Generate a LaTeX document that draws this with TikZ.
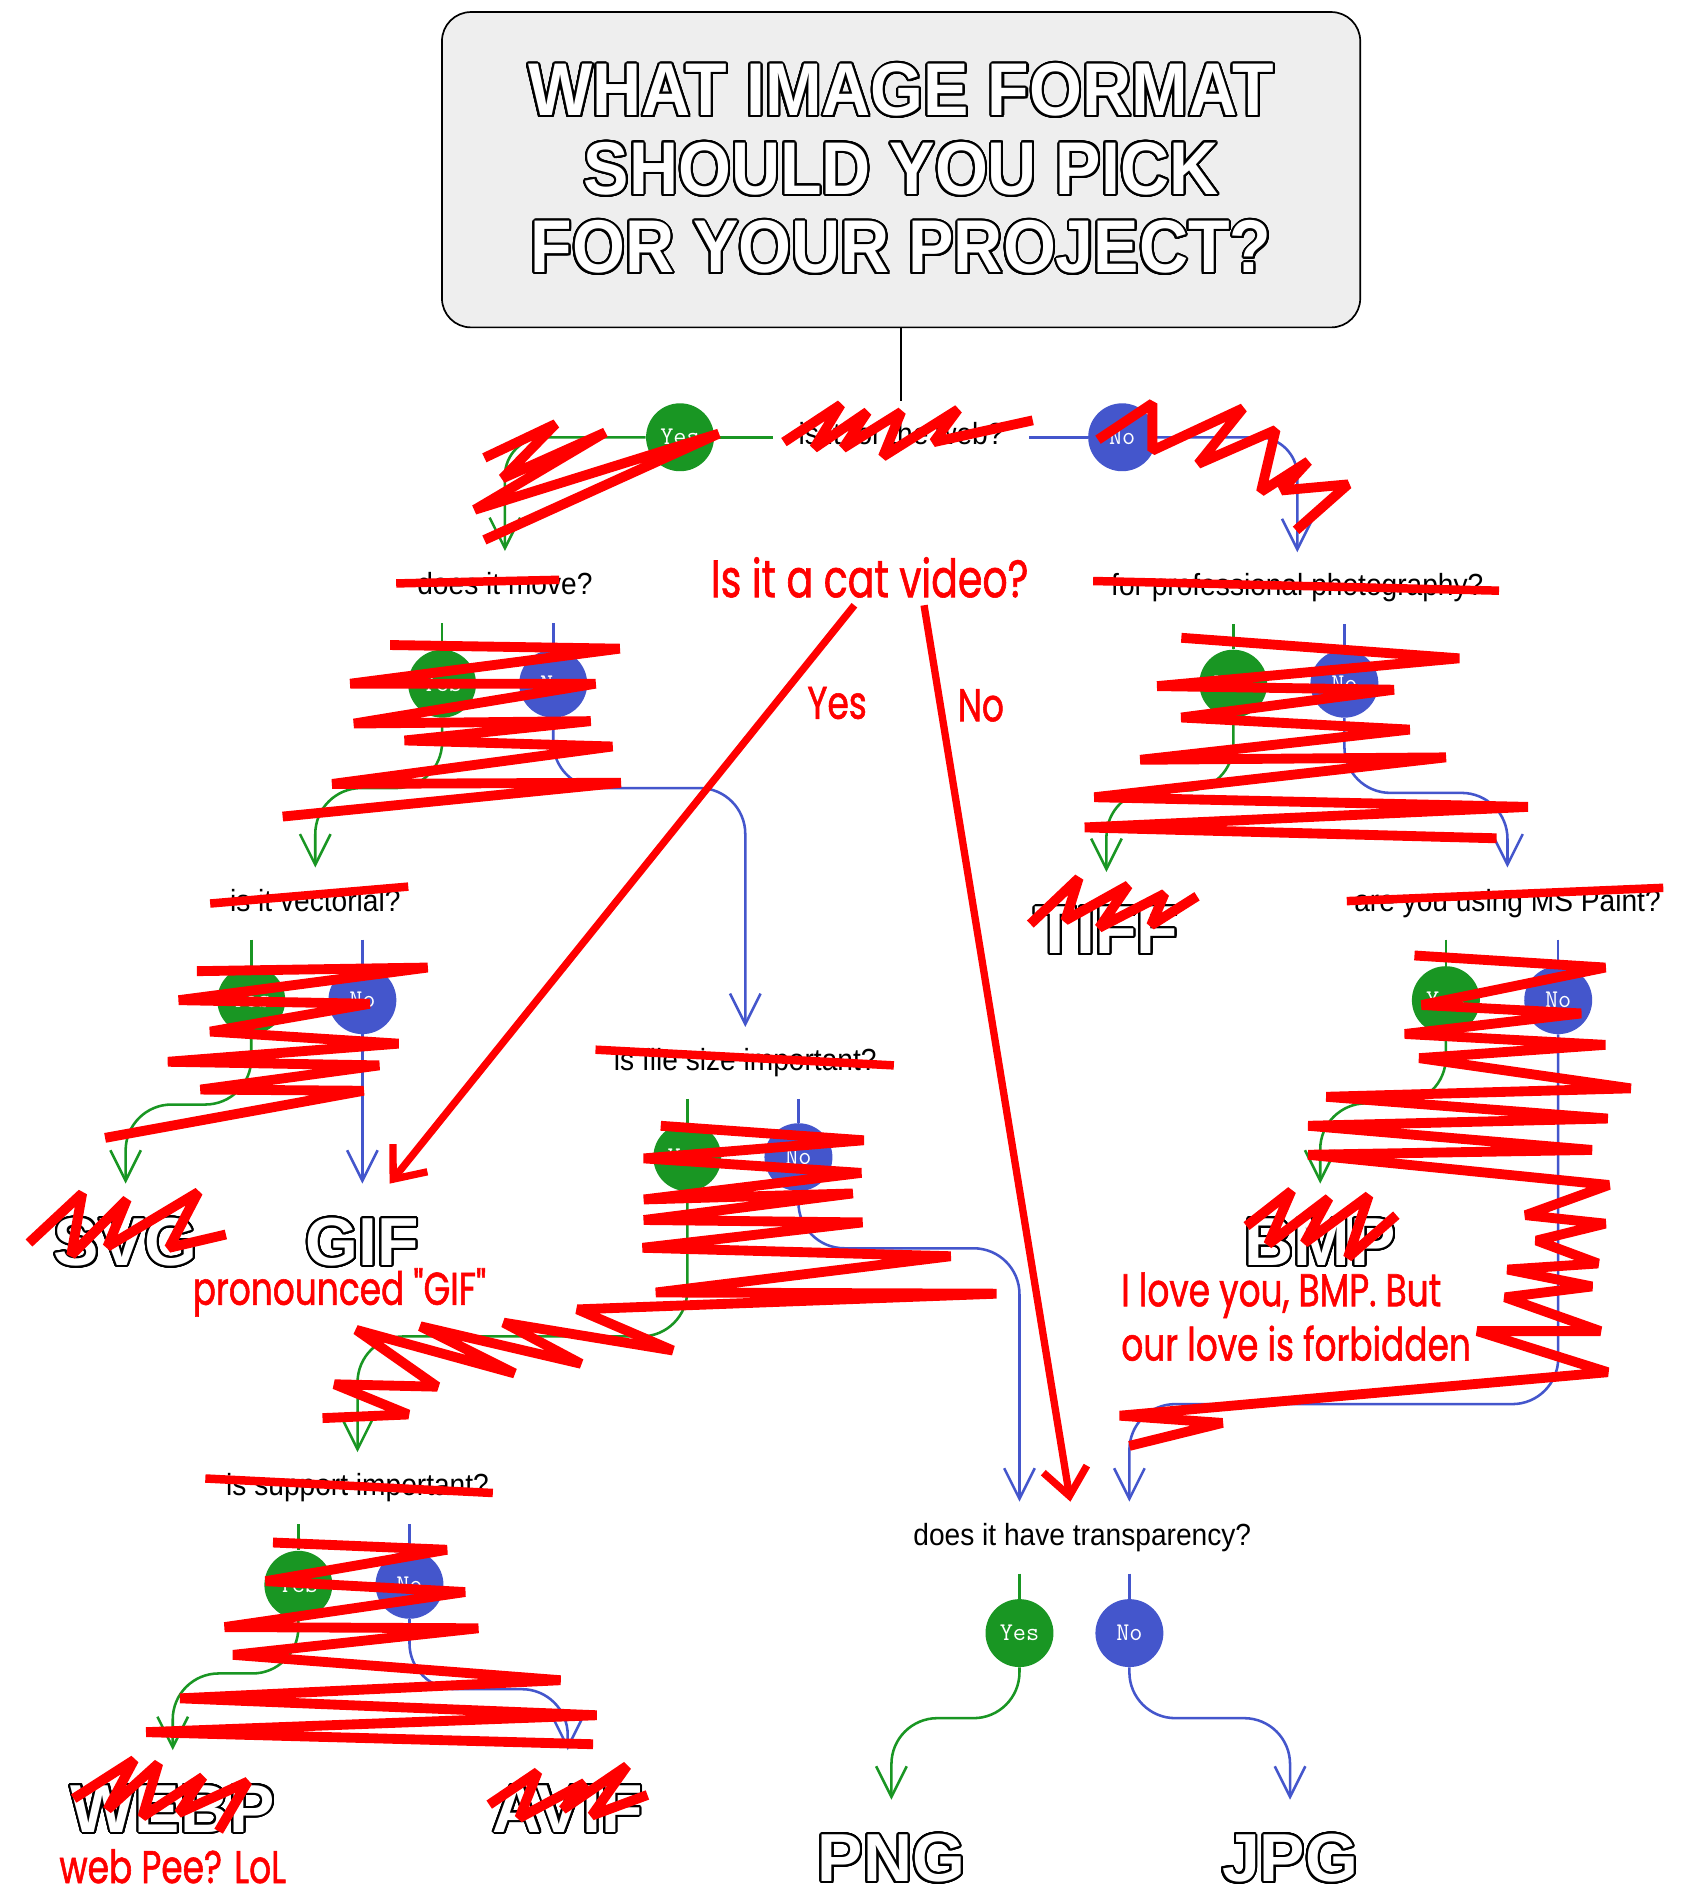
\documentclass[tikz,border=0pt]{standalone}
\usepackage{fontspec}
\usepackage{contour}
\usetikzlibrary{arrows.meta}
\setmainfont{Liberation Sans}
\newfontfamily\qfont[FakeStretch=0.92]{Liberation Sans}
\newfontfamily\fmtfont{Liberation Sans}
\newfontfamily\headfont[FakeStretch=0.91]{Liberation Sans}
\newfontfamily\handfont[FakeStretch=0.75,FakeBold=1.2]{Poppins}
\definecolor{yesgreen}{RGB}{25,150,35}
\definecolor{noblue}{RGB}{68,86,204}
\definecolor{scribred}{RGB}{255,0,0}
\definecolor{titlegray}{RGB}{238,238,238}
\contourlength{1.2pt}
\contournumber{32}
\tikzset{
  question/.style={font=\qfont\fontsize{18}{20}\selectfont, text height=13pt, text depth=4pt, inner ysep=12.5pt, inner xsep=15pt},
  yesnode/.style={circle, minimum size=40pt, inner sep=0pt, fill=yesgreen, text=white, font=\ttfamily\fontsize{15}{15}\selectfont},
  nonode/.style={yesnode, fill=noblue},
  format/.style={font=\fmtfont\bfseries\fontsize{40}{40}\selectfont, text=white, text height=28pt, text depth=0pt, inner ysep=20pt},
  yesline/.style={draw=yesgreen, line width=1.5pt},
  noline/.style={draw=noblue, line width=1.5pt},
  yesarrow/.style={yesline, rounded corners=0.95cm, -{Straight Barb[length=18pt,width=18pt]}},
  noarrow/.style={noline, rounded corners=0.95cm, -{Straight Barb[length=18pt,width=18pt]}},
  scribble/.style={draw=scribred, line width=5.8pt, line join=bevel},
  strike/.style={draw=scribred, line width=5pt},
  redarrow/.style={draw=scribred, line width=4.3pt, -{Straight Barb[length=16pt,width=26pt]}},
  redtext/.style={text=scribred, font=\handfont\fontsize{27}{32}\selectfont, align=left, inner sep=0pt}
}
\begin{document}
\begin{tikzpicture}[x=0.025cm, y=-0.025cm]
\fill[white] (0,0) rectangle (1398,1568);
\useasboundingbox (0,0) rectangle (1398,1568);

\node[draw, line width=1pt, fill=titlegray, rounded corners=0.6cm, minimum width=19cm, minimum height=6.525cm,
      align=center, text=white, font=\headfont\bfseries\fontsize{44}{46.2}\selectfont] (title) at (746,140.5)
      {\contour{black}{WHAT IMAGE FORMAT}\\\contour{black}{SHOULD YOU PICK}\\\contour{black}{FOR YOUR PROJECT?}};

% questions
\node[question] (q1) at (746,362) {is it for the web?};
\node[question] (q2) at (418,486) {does it move?};
\node[question] (q3) at (1074,487) {for professional photography?};
\node[question] (q4) at (261,748) {is it vectorial?};
\node[question] (q5) at (617,880) {is file size important?};
\node[question] (q6) at (296,1232) {is support important?};
\node[question] (q7) at (1248,748) {are you using MS Paint?};
\node[question] (q8) at (896,1273) {does it have transparency?};

% answers
\node[yesnode] (y1) at (563,362) {Yes};
\node[nonode] (n1) at (929,362) {No};
\node[yesnode] (y2) at (366,566) {Yes};
\node[nonode] (n2) at (458,566) {No};
\node[yesnode] (y3) at (1021,566) {Yes};
\node[nonode] (n3) at (1113,566) {No};
\node[yesnode] (y4) at (208,828) {Yes};
\node[nonode] (n4) at (300,828) {No};
\node[yesnode] (y5) at (569,958) {Yes};
\node[nonode] (n5) at (661,958) {No};
\node[yesnode] (y6) at (247,1312) {Yes};
\node[nonode] (n6) at (339,1312) {No};
\node[yesnode] (y7) at (1197,828) {Yes};
\node[nonode] (n7) at (1290,828) {No};
\node[yesnode] (y8) at (844,1352) {Yes};
\node[nonode] (n8) at (935,1352) {No};

% formats
\node[format] (svg) at (104,1028) {\contour{black}{SVG}};
\node[format] (gif) at (300,1028) {\contour{black}{GIF}};
\node[format] (tiff) at (916,770) {\contour{black}{TIFF}};
\node[format] (bmp) at (1093,1028) {\contour{black}{BMP}};
\node[format] (webp) at (143,1497) {\contour{black}{WEBP}};
\node[format] (avif) at (470,1497) {\contour{black}{AVIF}};
\node[format] (png) at (738,1538) {\contour{black}{PNG}};
\node[format] (jpg) at (1068,1538) {\contour{black}{JPG}};

\draw[line width=1pt] (title.south) -- (q1.north);
\draw[yesline] (q1.west) -- (y1);
\draw[yesarrow, rounded corners=0.8cm] (y1.west) -| (q2.north);
\draw[noline] (q1.east) -- (n1);
\draw[noarrow, rounded corners=0.8cm] (n1.east) -| (q3.north);

\foreach \q/\y/\n in {q2/y2/n2, q3/y3/n3, q4/y4/n4, q5/y5/n5, q6/y6/n6, q7/y7/n7, q8/y8/n8} {
  \draw[yesline] (\q.south -| \y) -- (\y);
  \draw[noline] (\q.south -| \n) -- (\n);
}

\draw[yesarrow] (y2.south) -- ++(0,58) -| (q4.north);
\draw[noarrow] (n2.south) -- ++(0,58) -| (q5.north);
\draw[yesarrow] (y3.south) -- ++(0,60) -| (tiff.north);
\draw[noarrow] (n3.south) -- ++(0,62) -| (q7.north);
\draw[yesarrow] (y4.south) -- ++(0,58) -| (svg.north);
\draw[noarrow] (n4) -- (gif.north);
\draw[yesarrow] (y5.south) -- ++(0,120) -| (q6.north);
\draw[noarrow] (n5.south) -- ++(0,47) -| (q8.north -| y8);
\draw[yesarrow] (y6.south) -- ++(0,45) -| (webp.north);
\draw[noarrow] (n6.south) -- ++(0,58) -| (avif.north);
\draw[yesarrow] (y7.south) -- ++(0,57) -| (bmp.north);
\draw[noarrow] (n7.south) -- ++(0,306) -| (q8.north -| n8);
\draw[yesarrow] (y8.south) -- ++(0,42) -| (png.north);
\draw[noarrow] (n8.south) -- ++(0,42) -| (jpg.north);

% scribbles
\draw[scribble] (649,366) -- (696,335) -- (674,371) -- (718,341) -- (698,371) -- (746,341) -- (731,378) -- (793,339) -- (773,366) -- (855,348);
\draw[scribble] (401,379) -- (460,351) -- (416,396) -- (501,358) -- (393,422) -- (595,359) -- (401,447);
\draw[scribble] (909,364) -- (954,334) -- (954,373) -- (1029,338) -- (992,384) -- (1056,356) -- (1044,407) -- (1083,382) -- (1061,406) -- (1116,401) -- (1073,439);
\draw[scribble] (323,534) -- (513,537) -- (290,566) -- (493,566) -- (293,599) -- (489,597) -- (335,613) -- (507,618) -- (275,649) -- (514,648) -- (234,676);
\draw[scribble] (978,528) -- (1208,545) -- (958,568) -- (1154,571) -- (978,594) -- (1167,604) -- (944,629) -- (1197,627) -- (906,660) -- (1265,668) -- (898,685) -- (1239,694);
\draw[scribble] (853,765) -- (893,727) -- (882,762) -- (934,733) -- (910,768) -- (964,740) -- (953,766) -- (991,742);
\draw[scribble] (163,804) -- (354,801) -- (148,828) -- (306,831) -- (174,854) -- (330,864) -- (139,879) -- (314,882) -- (166,902) -- (301,903) -- (87,942);
\draw[scribble] (24,1029) -- (68,988) -- (59,1039) -- (105,993) -- (89,1032) -- (164,987) -- (140,1033) -- (187,1022);
\draw[scribble] (547,932) -- (715,944) -- (533,959) -- (713,971) -- (533,993) -- (706,988) -- (533,1010) -- (714,1012) -- (532,1033) -- (787,1040) -- (543,1070) -- (825,1071) -- (478,1084) -- (557,1118) -- (417,1095) -- (481,1129) -- (348,1098) -- (426,1137) -- (295,1101) -- (362,1148) -- (277,1146) -- (338,1171) -- (267,1174);
\draw[scribble] (1171,791) -- (1329,801) -- (1177,832) -- (1309,839) -- (1163,856) -- (1329,865) -- (1175,876) -- (1350,901) -- (1098,908) -- (1331,926) -- (1083,932) -- (1318,952) -- (1083,956) -- (1332,981) -- (1263,1006) -- (1329,1013) -- (1272,1027) -- (1323,1046) -- (1248,1051) -- (1318,1065) -- (1246,1074) -- (1325,1102) -- (1223,1102) -- (1331,1136) -- (927,1172) -- (1012,1178) -- (935,1197);
\draw[scribble] (1032,1015) -- (1069,986) -- (1050,1030) -- (1100,992) -- (1080,1029) -- (1133,990) -- (1116,1041) -- (1156,1006);
\draw[scribble] (226,1277) -- (370,1283) -- (220,1309) -- (385,1318) -- (186,1347) -- (396,1348) -- (193,1370) -- (464,1391) -- (149,1406) -- (494,1420) -- (121,1434) -- (491,1444);
\draw[scribble] (61,1489) -- (111,1457) -- (89,1498) -- (131,1460) -- (118,1504) -- (168,1471) -- (148,1501) -- (205,1475) -- (181,1516);
\draw[scribble] (405,1494) -- (445,1467) -- (430,1505) -- (484,1476) -- (466,1498) -- (519,1462) -- (490,1503) -- (536,1486);

\draw[strike] (328,483) -- (463,480);
\draw[strike] (905,481) -- (1241,489);
\draw[strike] (174,748) -- (338,734);
\draw[strike] (493,869) -- (740,882);
\draw[strike] (170,1224) -- (408,1236);
\draw[strike] (1115,746) -- (1377,735);

% cat video
\node[redtext, font=\handfont\fontsize{31}{34}\selectfont] (catq) at (720,478) {Is it a cat video?};
\node[redtext] (catyes) at (693,582) {Yes};
\node[redtext] (catno) at (812,584) {No};
\draw[redarrow] ([xshift=-9pt]catq.south) ++(0,6) -- ([xshift=16pt]gif.north);
\draw[redarrow] ([xshift=32pt]catq.south) ++(0,6) -- ([xshift=-7pt]q8.north);

\node[redtext] (gifnote) at (281,1070) {pronounced "GIF"};
\node[redtext, anchor=west] (bmpnote) at (928,1090) {I love you, BMP. But\\our love is forbidden};
\node[redtext] (webpnote) at (143,1545) {web Pee? LoL};
\end{tikzpicture}
\end{document}
